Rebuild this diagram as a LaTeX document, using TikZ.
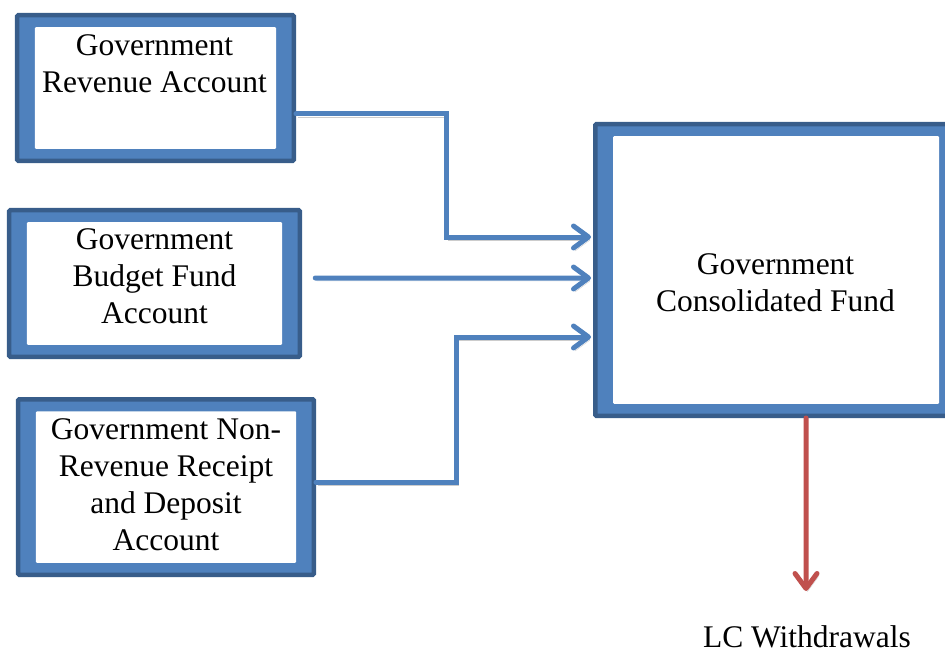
\documentclass[tikz,border=0pt]{standalone}
\usepackage{fontspec}
\setmainfont{Liberation Serif}
\usetikzlibrary{arrows.meta,calc}
\definecolor{acc}{HTML}{4F81BD}
\definecolor{accd}{HTML}{385D8A}
\definecolor{redacc}{HTML}{C0504D}
\tikzset{
  box/.style={rectangle, draw=accd, line width=4.5bp, fill=acc, inner sep=0pt, rounded corners=1bp,
    path picture={\fill[white] ([xshift=17.75bp,yshift=-12bp]path picture bounding box.north west)
       rectangle ([xshift=-17.75bp,yshift=12bp]path picture bounding box.south east);}},
  txt/.style={font=\fontsize{31.5bp}{37bp}\selectfont, align=center, inner sep=0pt},
  conn/.style={draw=acc, line width=5bp, line cap=round,
    -{Straight Barb[length=15bp,width=22bp,line cap=round,round]},
    preaction={draw=black!20, transform canvas={xshift=1.5bp,yshift=-3bp}}},
  outconn/.style={conn, draw=redacc}
}
\begin{document}
\begin{tikzpicture}[x=1bp,y=-1bp]
\useasboundingbox (0,0) rectangle (945,653);
\clip (0,0) rectangle (945,653);
% boxes
\node[box, minimum width=276.5bp, minimum height=145.5bp] (b1) at (155.5,88) {};
\node[box, minimum width=290.5bp, minimum height=146.5bp] (b2) at (154.5,283.5) {};
\node[box, minimum width=295.5bp, minimum height=175.5bp] (b3) at (166,487) {};
\node[box, minimum width=361.5bp, minimum height=291.5bp] (big) at (776,270) {};
% texts
\node[txt] (t1) at (154.5,64) {Government\\Revenue Account};
\node[txt] (t2) at (154.5,276.5) {Government\\Budget Fund\\Account};
\node[txt] (t3) at (166,484.3) {Government Non-\\Revenue Receipt\\and Deposit\\Account};
\node[txt] (t4) at (775.5,282.8) {Government\\Consolidated Fund};
\node[txt] (lc) at (807,637.3) {LC Withdrawals};
% connectors
\draw[conn, shorten >=2bp] ([yshift=-26bp]b1.east) -- ++(150.25,0) |- ([yshift=33bp]big.west);
\draw[conn, shorten >=2bp] ([xshift=13.25bp,yshift=5.5bp]b2.east) -- ([yshift=-8bp]big.west);
\draw[conn, shorten >=2bp] ([yshift=5bp]b3.east) -- ++(140.25,0) |- ([yshift=-67bp]big.west);
\coordinate (lcend) at (806,591);
\draw[outconn] ([xshift=30bp]big.south) -- (lcend);
\end{tikzpicture}
\end{document}
